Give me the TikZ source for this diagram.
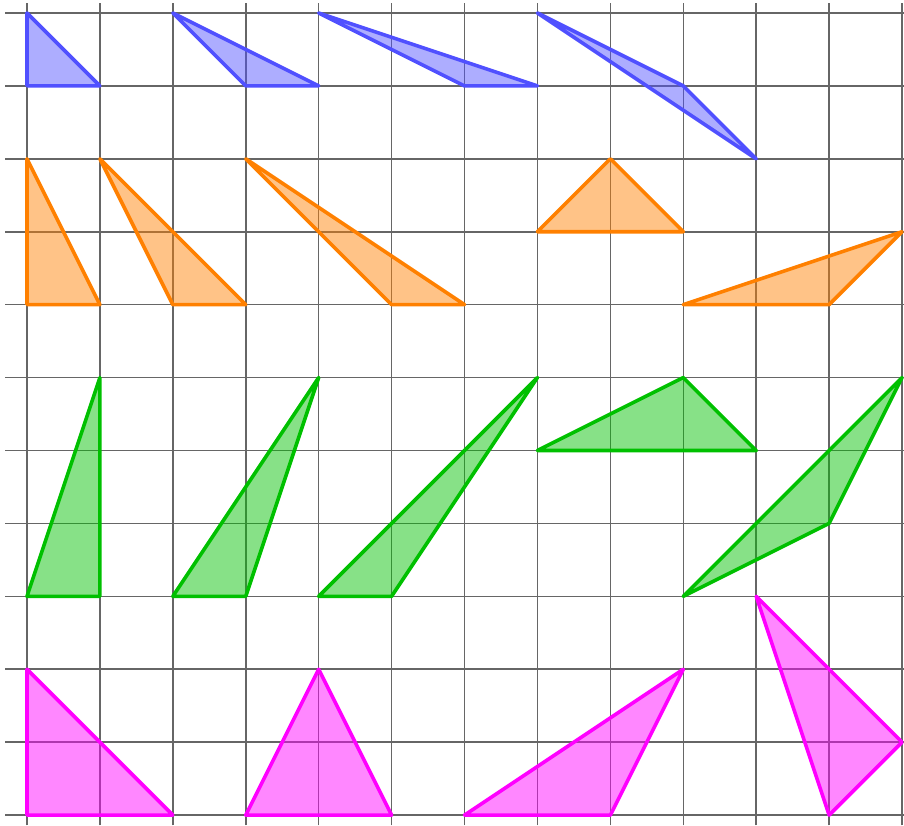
\documentclass[tikz,border=0pt]{standalone}
\usepackage{tikz}

\definecolor{triblue}{RGB}{80,80,255}
\definecolor{triorange}{RGB}{255,128,0}
\definecolor{trigreen}{RGB}{0,192,0}
\definecolor{trimagenta}{RGB}{255,0,255}

\tikzstyle{gridline} = [draw=black!60, line width=0.6pt]
\tikzstyle{tri} = [line width=1.4pt, line join=round, fill opacity=0.47]
\tikzstyle{bluetri} = [tri, draw=triblue, fill=triblue]
\tikzstyle{orangetri} = [tri, draw=triorange, fill=triorange]
\tikzstyle{greentri} = [tri, draw=trigreen, fill=trigreen]
\tikzstyle{magentatri} = [tri, draw=trimagenta, fill=trimagenta]

\begin{document}
\begin{tikzpicture}[x=1cm, y=1cm]
	\useasboundingbox (-0.370,-0.137) rectangle (12.027,11.178);
	
	% grid
	\foreach \x in {0,...,12}
		\draw [gridline] (\x,-0.14) -- (\x,11.14);
	\foreach \y in {0,...,11}
		\draw [gridline] (-0.30,\y) -- (12.05,\y);
	
	% blue row
	\draw [bluetri] (0,11) -- (0,10) -- (1,10) -- cycle;
	\draw [bluetri] (2,11) -- (3,10) -- (4,10) -- cycle;
	\draw [bluetri] (4,11) -- (6,10) -- (7,10) -- cycle;
	\draw [bluetri] (7,11) -- (9,10) -- (10,9) -- cycle;
	
	% orange row
	\draw [orangetri] (0,9) -- (0,7) -- (1,7) -- cycle;
	\draw [orangetri] (1,9) -- (2,7) -- (3,7) -- cycle;
	\draw [orangetri] (3,9) -- (5,7) -- (6,7) -- cycle;
	\draw [orangetri] (7,8) -- (8,9) -- (9,8) -- cycle;
	\draw [orangetri] (9,7) -- (12,8) -- (11,7) -- cycle;
	
	% green row
	\draw [greentri] (0,3) -- (1,6) -- (1,3) -- cycle;
	\draw [greentri] (2,3) -- (4,6) -- (3,3) -- cycle;
	\draw [greentri] (4,3) -- (7,6) -- (5,3) -- cycle;
	\draw [greentri] (7,5) -- (9,6) -- (10,5) -- cycle;
	\draw [greentri] (9,3) -- (12,6) -- (11,4) -- cycle;
	
	% magenta row
	\draw [magentatri] (0,2) -- (0,0) -- (2,0) -- cycle;
	\draw [magentatri] (3,0) -- (4,2) -- (5,0) -- cycle;
	\draw [magentatri] (6,0) -- (9,2) -- (8,0) -- cycle;
	\draw [magentatri] (10,3) -- (12,1) -- (11,0) -- cycle;
	
\end{tikzpicture}
\end{document}
